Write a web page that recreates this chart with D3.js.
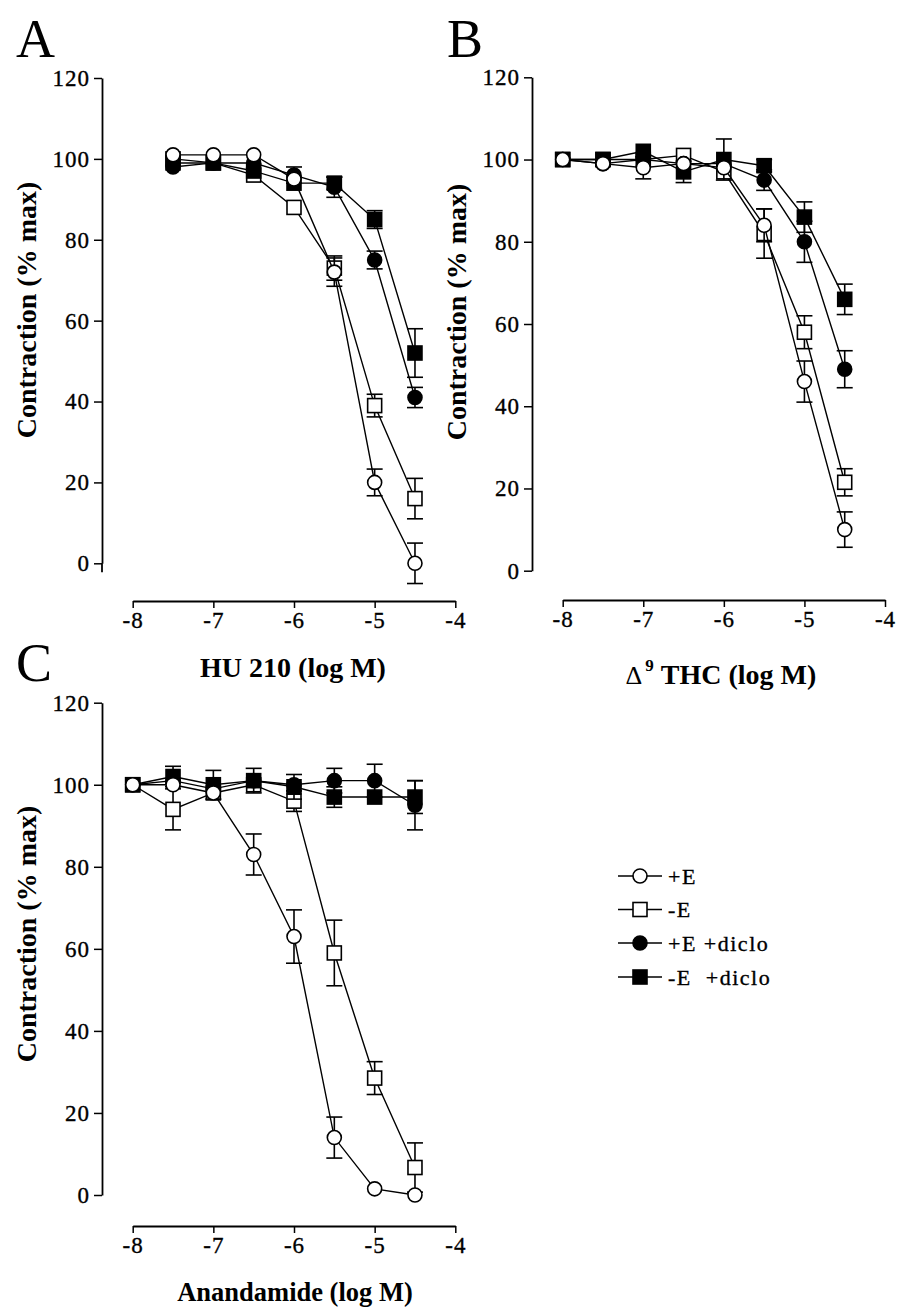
<!DOCTYPE html>
<html>
<head>
<meta charset="utf-8">
<script src="https://cdn.jsdelivr.net/npm/d3@7/dist/d3.min.js"></script>
<style>
  html, body { margin: 0; padding: 0; background: #fff; }
  svg { display: block; }
  svg text { font-family: "Liberation Serif", "Times New Roman", Times, serif; }
</style>
</head>
<body>
<svg id="chart" width="900" height="1316"></svg>
<script>
// ---------------- DATA ----------------
const seriesNames = ["+E", "-E", "+E +diclo", "-E  +diclo"];
const xTickValues = [-8, -7, -6, -5, -4];
const yTickValues = [0, 20, 40, 60, 80, 100, 120];

// Panel A: HU 210
const xA = [-7.5, -7, -6.5, -6, -5.5, -5, -4.5];
const A_plusE        = [101, 101, 101, 95, 72, 20, 0];
const A_plusE_se     = [0, 0, 0, 0, 3.5, 3.3, 5];
const A_minusE       = [100, 99, 96, 88, 73, 39, 16];
const A_minusE_se    = [0, 0, 0, 0, 3, 2.8, 5];
const A_plusD        = [98, 99, 99, 96, 93, 75, 41];
const A_plusD_se     = [0, 0, 0, 2, 2.5, 2.2, 2.5];
const A_minusD       = [99, 99, 97, 94, 94, 85, 52];
const A_minusD_se    = [0, 0, 0, 0, 1.5, 2.2, 6];

// Panel B: delta-9 THC
const xB = [-8, -7.5, -7, -6.5, -6, -5.5, -5, -4.5];
const B_plusE        = [100, 99, 98, 99, 98, 84, 46, 10];
const B_plusE_se     = [0, 0, 2.7, 0, 0, 4, 5, 4.3];
const B_minusE       = [100, 100, 100, 101, 97, 82, 58, 21.5];
const B_minusE_se    = [0, 0, 0, 0, 0, 6, 4, 3.3];
const B_plusD        = [100, 99, 100, 99, 99, 95, 80, 49];
const B_plusD_se     = [0, 0, 0, 0, 0, 2.5, 5, 4.5];
const B_minusD       = [100, 100, 102, 97, 100, 98.5, 86, 66];
const B_minusD_se    = [0, 0, 0, 2.6, 5, 1.5, 3.7, 3.7];

// Panel C: Anandamide
const xC = [-8, -7.5, -7, -6.5, -6, -5.5, -5, -4.5];
const C_plusE        = [100, 100, 98, 83, 63, 14, 1.5, 0];
const C_plusE_se     = [0, 0, 0, 5, 6.5, 5, 0, 0];
const C_minusE       = [100, 94, 98, 100, 96, 59, 28.5, 6.7];
const C_minusE_se    = [0, 5, 0, 0, 2.5, 8, 4, 6];
const C_plusD        = [100, 101, 99, 101, 100, 101, 101, 95];
const C_plusD_se     = [0, 0, 0, 0, 0, 3, 4, 6];
const C_minusD       = [100, 102, 100, 101, 99.5, 97, 97, 97];
const C_minusD_se    = [0, 2.5, 3.5, 3, 3, 2.5, 0, 4];

// ---------------- STYLE / LAYOUT ----------------
const FONT = '"Liberation Serif", "Times New Roman", Times, serif';
const styles = [
  { shape: "circle", fill: "#fff" },   // +E
  { shape: "square", fill: "#fff" },   // -E
  { shape: "circle", fill: "#000" },   // +E +diclo
  { shape: "square", fill: "#000" }    // -E +diclo
];
const drawOrder = [1, 3, 2, 0];

const svg = d3.select("#chart");

function mkSeries(xs, arrs) {
  return arrs.map(([vals, se]) => xs.map((x, i) => ({ x, y: vals[i], se: se[i] })));
}

const panels = [
  {
    letter: "A", letterX: 16, letterY: 57,
    series: mkSeries(xA, [[A_plusE, A_plusE_se], [A_minusE, A_minusE_se], [A_plusD, A_plusD_se], [A_minusD, A_minusD_se]]),
    xRange: [132.7, 455.3], yRange: [563.3, 78], xAxisY: 601, yAxisX: 102, yExt: 9,
    yLabelX: 36, yLabelY: 310,
    xLabel: "HU 210 (log M)", xLabelX: 293, xLabelY: 677, xLabelSize: 28
  },
  {
    letter: "B", letterX: 447, letterY: 57,
    series: mkSeries(xB, [[B_plusE, B_plusE_se], [B_minusE, B_minusE_se], [B_plusD, B_plusD_se], [B_minusD, B_minusD_se]]),
    xRange: [562.7, 885], yRange: [570.7, 77.3], xAxisY: 600, yAxisX: 532, yExt: 0,
    yLabelX: 466, yLabelY: 312,
    xLabel: "THC", xLabelX: 721, xLabelY: 684, xLabelSize: 28, delta: true
  },
  {
    letter: "C", letterX: 16, letterY: 681,
    series: mkSeries(xC, [[C_plusE, C_plusE_se], [C_minusE, C_minusE_se], [C_plusD, C_plusD_se], [C_minusD, C_minusD_se]]),
    xRange: [132.7, 455.3], yRange: [1195, 702.7], xAxisY: 1226, yAxisX: 102, yExt: 0,
    yLabelX: 36, yLabelY: 934,
    xLabel: "Anandamide (log M)", xLabelX: 295, xLabelY: 1301, xLabelSize: 26.5
  }
];

function drawMarker(g, shape, fill, cx, cy) {
  if (shape === "circle") {
    g.append("circle").attr("cx", cx).attr("cy", cy).attr("r", 7)
      .attr("fill", fill).attr("stroke", "#000").attr("stroke-width", 1.6);
  } else {
    g.append("rect").attr("x", cx - 7).attr("y", cy - 7).attr("width", 14).attr("height", 14)
      .attr("fill", fill).attr("stroke", "#000").attr("stroke-width", 1.6);
  }
}

function heavy(sel) {
  return sel.style("stroke", "#000").style("stroke-width", "0.35px");
}

panels.forEach(p => {
  const x = d3.scaleLinear().domain([-8, -4]).range(p.xRange);
  const y = d3.scaleLinear().domain([0, 120]).range(p.yRange);
  const g = svg.append("g");

  // panel letter
  g.append("text").attr("x", p.letterX).attr("y", p.letterY)
    .style("font-family", FONT).style("font-size", "54px").text(p.letter);

  // y axis
  const yAxis = d3.axisLeft(y).tickValues(yTickValues).tickSize(8).tickSizeOuter(0)
    .tickPadding(4).tickFormat(d => String(d));
  const ya = g.append("g").attr("transform", `translate(${p.yAxisX},0)`).call(yAxis);
  ya.select(".domain").attr("stroke-width", 1.8);
  ya.selectAll(".tick line").attr("stroke-width", 1.5);
  heavy(ya.selectAll("text").style("font-family", FONT).style("font-size", "23px")
    .style("letter-spacing", "1px").attr("fill", "#000"));
  if (p.yExt > 0) {
    g.append("line").attr("x1", p.yAxisX).attr("x2", p.yAxisX)
      .attr("y1", y(0)).attr("y2", y(0) + p.yExt).attr("stroke", "#000").attr("stroke-width", 1.8);
  }

  // x axis
  const xAxis = d3.axisBottom(x).tickValues(xTickValues).tickSize(7).tickSizeOuter(0)
    .tickPadding(4).tickFormat(d => String(d));
  const xa = g.append("g").attr("transform", `translate(0,${p.xAxisY})`).call(xAxis);
  xa.select(".domain").attr("stroke-width", 1.8);
  xa.selectAll(".tick line").attr("stroke-width", 1.5);
  heavy(xa.selectAll("text").style("font-family", FONT).style("font-size", "23px")
    .style("letter-spacing", "1px").attr("fill", "#000"));

  // y label
  g.append("text")
    .attr("transform", `translate(${p.yLabelX},${p.yLabelY}) rotate(-90)`)
    .attr("text-anchor", "middle").style("font-family", FONT)
    .style("font-size", "28px").style("font-weight", "bold").text("Contraction (% max)");

  // x label
  const xl = g.append("text").attr("x", p.xLabelX).attr("y", p.xLabelY)
    .attr("text-anchor", "middle").style("font-family", FONT)
    .style("font-size", p.xLabelSize + "px").style("font-weight", "bold");
  if (p.delta) {
    xl.append("tspan").style("font-weight", "normal").style("font-size", "26px").text("\u0394");
    xl.append("tspan").style("font-size", "17px").attr("dy", -13).attr("dx", 3).text("9");
    xl.append("tspan").attr("dy", 13).text("\u00a0THC (log M)");
  } else {
    xl.text(p.xLabel);
  }

  // series
  const line = d3.line().x(d => x(d.x)).y(d => y(d.y));
  drawOrder.forEach(si => {
    const data = p.series[si];
    const st = styles[si];
    const sg = g.append("g");
    sg.append("path").datum(data).attr("d", line).attr("fill", "none")
      .attr("stroke", "#000").attr("stroke-width", 1.4);
    data.filter(d => d.se > 0).forEach(d => {
      const cx = x(d.x);
      const yt = y(d.y + d.se), yb = y(d.y - d.se);
      sg.append("line").attr("x1", cx).attr("x2", cx).attr("y1", yt).attr("y2", yb)
        .attr("stroke", "#000").attr("stroke-width", 1.6);
      [yt, yb].forEach(yy => sg.append("line").attr("x1", cx - 8).attr("x2", cx + 8)
        .attr("y1", yy).attr("y2", yy).attr("stroke", "#000").attr("stroke-width", 1.6));
    });
    data.forEach(d => drawMarker(sg, st.shape, st.fill, x(d.x), y(d.y)));
  });
});

// legend
const legendRows = [876, 909.5, 943, 977];
const lg = svg.append("g");
seriesNames.forEach((name, i) => {
  const cy = legendRows[i];
  lg.append("line").attr("x1", 618).attr("x2", 662).attr("y1", cy).attr("y2", cy)
    .attr("stroke", "#000").attr("stroke-width", 1.6);
  drawMarker(lg, styles[i].shape, styles[i].fill, 640, cy);
  heavy(lg.append("text").attr("x", 668).attr("y", cy + 7.5)
    .style("font-family", FONT).style("font-size", "22px").style("letter-spacing", "1.5px")
    .style("white-space", "pre").text(name));
});
</script>
</body>
</html>
